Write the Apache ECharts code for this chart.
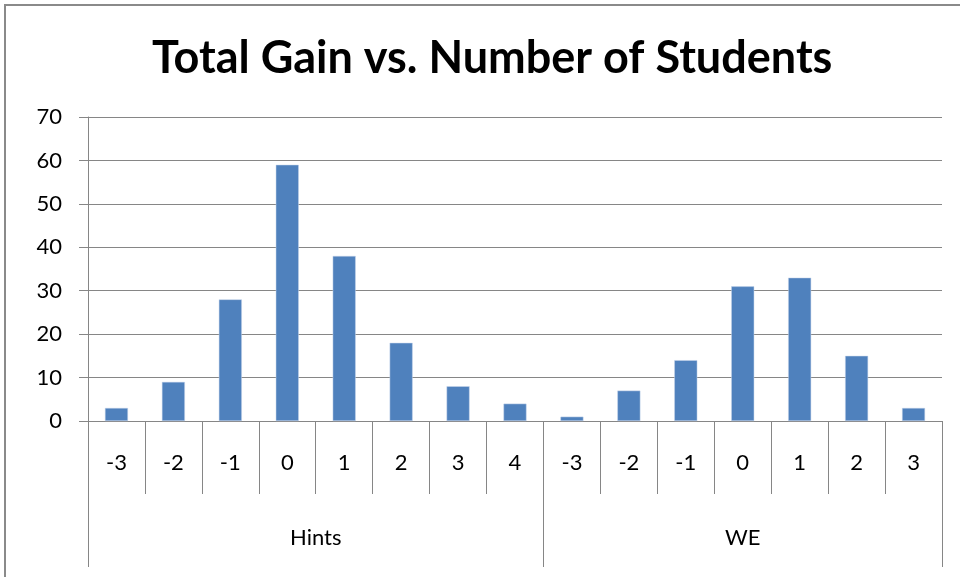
<!DOCTYPE html>
<html>
<head>
<meta charset="utf-8">
<script src="https://cdn.jsdelivr.net/npm/echarts@6/dist/echarts.min.js"></script>
<style>
  html, body { margin: 0; padding: 0; background: #fff; overflow: hidden; }
  .frame { position: absolute; left: 4px; top: 4px; width: 1000px; height: 700px; border: 2px solid #8a8a8a; }
  #main { position: absolute; left: 0; top: 0; width: 960px; height: 577px; }
</style>
</head>
<body>
<div class="frame"></div>
<div id="main"></div>
<script>
// gain values and student counts per condition
const hintsGains = ['-3', '-2', '-1', '0', '1', '2', '3', '4'];
const hintsCounts = [3, 9, 28, 59, 38, 18, 8, 4];
const weGains = ['-3', '-2', '-1', '0', '1', '2', '3'];
const weCounts = [1, 7, 14, 31, 33, 15, 3];
const groupNames = ['Hints', 'WE'];
const yTicks = [0, 10, 20, 30, 40, 50, 60, 70];

const categories = hintsGains.concat(weGains);
const counts = hintsCounts.concat(weCounts);
const total = categories.length;
const groupEdges = [0, hintsGains.length, total];
const groupCenters = [hintsGains.length / 2, hintsGains.length + weGains.length / 2];

const axisGray = '#868686';
const font = 'Lato, "Open Sans", sans-serif';

let myChart = echarts.init(document.getElementById('main'));
let option = {
  animation: false,
  title: {
    text: 'Total Gain vs. Number of Students',
    left: 147,
    top: 31,
    textStyle: { fontFamily: font, fontSize: 45, fontWeight: 'bold', color: '#000' }
  },
  grid: { left: 88, right: 18, top: 117, bottom: 156 },
  xAxis: [
    {
      type: 'category',
      data: categories,
      position: 'bottom',
      axisLine: { show: true, lineStyle: { color: axisGray, width: 1 } },
      axisTick: { show: true, interval: 0, length: 73, lineStyle: { color: axisGray } },
      axisLabel: { interval: 0, margin: 31, fontSize: 22, color: '#000', fontFamily: font }
    },
    {
      type: 'value',
      min: 0,
      max: total,
      position: 'bottom',
      axisLine: { show: false },
      splitLine: { show: false },
      axisTick: { show: true, length: 146, customValues: groupEdges, lineStyle: { color: axisGray } },
      axisLabel: {
        customValues: groupCenters,
        margin: 106,
        fontSize: 22,
        color: '#000',
        fontFamily: font,
        formatter: function (v) { return v < hintsGains.length ? groupNames[0] : groupNames[1]; }
      }
    }
  ],
  yAxis: {
    type: 'value',
    min: yTicks[0],
    max: yTicks[yTicks.length - 1],
    interval: 10,
    axisLine: { show: true, lineStyle: { color: axisGray } },
    axisTick: { show: true, length: 9, lineStyle: { color: axisGray } },
    splitLine: { show: true, lineStyle: { color: axisGray, width: 1 } },
    axisLabel: { margin: 26, fontSize: 22, color: '#000', fontFamily: font }
  },
  series: [
    {
      type: 'bar',
      xAxisIndex: 0,
      data: counts,
      barWidth: 23,
      itemStyle: { color: '#4F81BD', borderColor: '#c6d5ea', borderWidth: 0.5 }
    }
  ]
};
option && myChart.setOption(option);
</script>
</body>
</html>
